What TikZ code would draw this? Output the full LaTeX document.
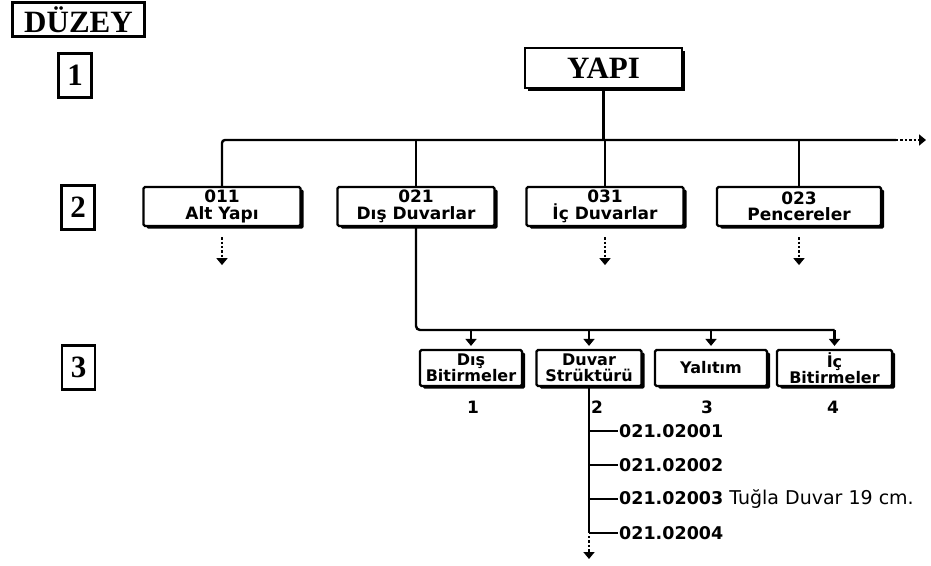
\documentclass[tikz,border=0pt]{standalone}
\usepackage{fontspec}
\newfontfamily\lab{DejaVu Sans}
\newfontfamily\ser{Liberation Serif}
\usetikzlibrary{arrows.meta,shadows}
\begin{document}
\begin{tikzpicture}[x=1pt,y=-1pt,
  ln/.style={line width=2.4pt},
  tip/.style={-{Triangle[width=11pt,length=7pt]}},
  dotln/.style={line width=2.2pt, dash pattern=on 2.4pt off 2pt},
  shad/.style={drop shadow={shadow xshift=3pt, shadow yshift=-2.5pt, fill=black, opacity=1}},
  titlebox/.style={draw, line width=2.2pt, inner sep=0pt, font=\ser\bfseries\fontsize{31}{31}\selectfont},
  numbox/.style={draw, line width=2.2pt, inner sep=0pt, minimum width=33pt, minimum height=44pt, font=\ser\bfseries\fontsize{31}{31}\selectfont},
  yapibox/.style={draw, line width=2.2pt, fill=white, shad, inner sep=0pt, minimum width=157pt, minimum height=40pt, font=\ser\bfseries\fontsize{31}{31}\selectfont},
  lvtwo/.style={draw, line width=2.2pt, fill=white, shad, rounded corners=1.5pt, inner sep=0pt, minimum height=39pt, align=center, font=\lab\bfseries\fontsize{17}{16.5}\selectfont},
  lvthree/.style={draw, line width=2.2pt, fill=white, shad, rounded corners=1.5pt, inner sep=0pt, minimum height=36pt, align=center, font=\lab\bfseries\fontsize{16}{15.5}\selectfont},
  numlab/.style={inner sep=1pt, font=\lab\bfseries\fontsize{17}{17}\selectfont},
  code/.style={anchor=west, inner sep=1pt, font=\lab\bfseries\fontsize{17.5}{17}\selectfont}
]
\useasboundingbox (0,0) rectangle (931,565);
\fill[white] (0,0) rectangle (931,565);

% level labels
\node[titlebox, minimum width=132pt, minimum height=34pt] (duzey) at (78.5,19.5) {DÜZEY};
\node[numbox] (d1) at (75,75.5) {1};
\node[numbox] (d2) at (78,207.5) {2};
\node[numbox] (d3) at (78.5,367.5) {3};

% level 1
\node[yapibox] (yapi) at (603.5,68) {YAPI};

% level 2
\node[lvtwo, minimum width=157pt] (alt) at (222,206.5) {011\\Alt Yapı};
\node[lvtwo, minimum width=157pt] (dis) at (416,206.5) {021\\Dış Duvarlar};
\node[lvtwo, minimum width=157pt] (ic)  at (605,206.5) {031\\İç Duvarlar};
\node[lvtwo, minimum width=164pt] (pen) at (799,206.5) {023\\Pencereler};

% bus level 1 -> 2
\coordinate (bM) at (896,140);
\coordinate (bR) at (926,140);
\draw[ln] (yapi.south) -- (yapi.south |- bM);
\draw[ln, rounded corners=3pt] (alt.north) |- (bM);
\draw[dotln, tip] (bM) -- (bR);
\draw[ln] (dis.north |- bM) -- (dis.north);
\draw[ln] (ic.north |- bM) -- (ic.north);
\draw[ln] (pen.north |- bM) -- (pen.north);

% continuation arrows under level 2
\draw[dotln, tip] ([yshift=-10pt]alt.south) -- ([yshift=-38pt]alt.south);
\draw[dotln, tip] ([yshift=-10pt]ic.south) -- ([yshift=-38pt]ic.south);
\draw[dotln, tip] ([yshift=-10pt]pen.south) -- ([yshift=-38pt]pen.south);

% level 3
\node[lvthree, minimum width=102pt] (dbit) at (471,368) {Dış\\Bitirmeler};
\node[lvthree, minimum width=105pt] (dstr) at (589,368) {Duvar\\Strüktürü};
\node[lvthree, minimum width=112pt] (yal)  at (711,368) {Yalıtım};
\node[lvthree, minimum width=115pt] (ibit) at (834.5,368) {İç\\Bitirmeler};

\coordinate (b3R) at (834.5,330);
\draw[ln, rounded corners=4pt] (dis.south) |- (b3R);
\draw[ln, tip, shorten >=3pt] (dbit.north |- b3R) -- (dbit.north);
\draw[ln, tip, shorten >=3pt] (dstr.north |- b3R) -- (dstr.north);
\draw[ln, tip, shorten >=3pt] (yal.north |- b3R) -- (yal.north);
\draw[ln, tip, shorten >=3pt] (ibit.north |- b3R) -- (ibit.north);

\node[numlab] (n1) at (473,407) {1};
\node[numlab] (n2) at (597,407) {2};
\node[numlab] (n3) at (707,407) {3};
\node[numlab] (n4) at (833,407) {4};

% level 4 codes
\node[code] (c1) at (618,431) {021.02001};
\node[code] (c2) at (618,465) {021.02002};
\node[code] (c3) at (618,499) {021.02003 {\mdseries\fontsize{19}{17}\selectfont Tuğla Duvar 19 cm.}};
\node[code] (c4) at (618,533) {021.02004};
\coordinate (tEnd) at (589,559);

\draw[ln] (dstr.south) -- (dstr.south |- c4.west);
\draw[ln] (dstr.south |- c1.west) -- (c1.west);
\draw[ln] (dstr.south |- c2.west) -- (c2.west);
\draw[ln] (dstr.south |- c3.west) -- (c3.west);
\draw[ln] (dstr.south |- c4.west) -- (c4.west);
\draw[dotln, tip] ([yshift=-3pt]dstr.south |- c4.west) -- (tEnd);
\end{tikzpicture}
\end{document}
